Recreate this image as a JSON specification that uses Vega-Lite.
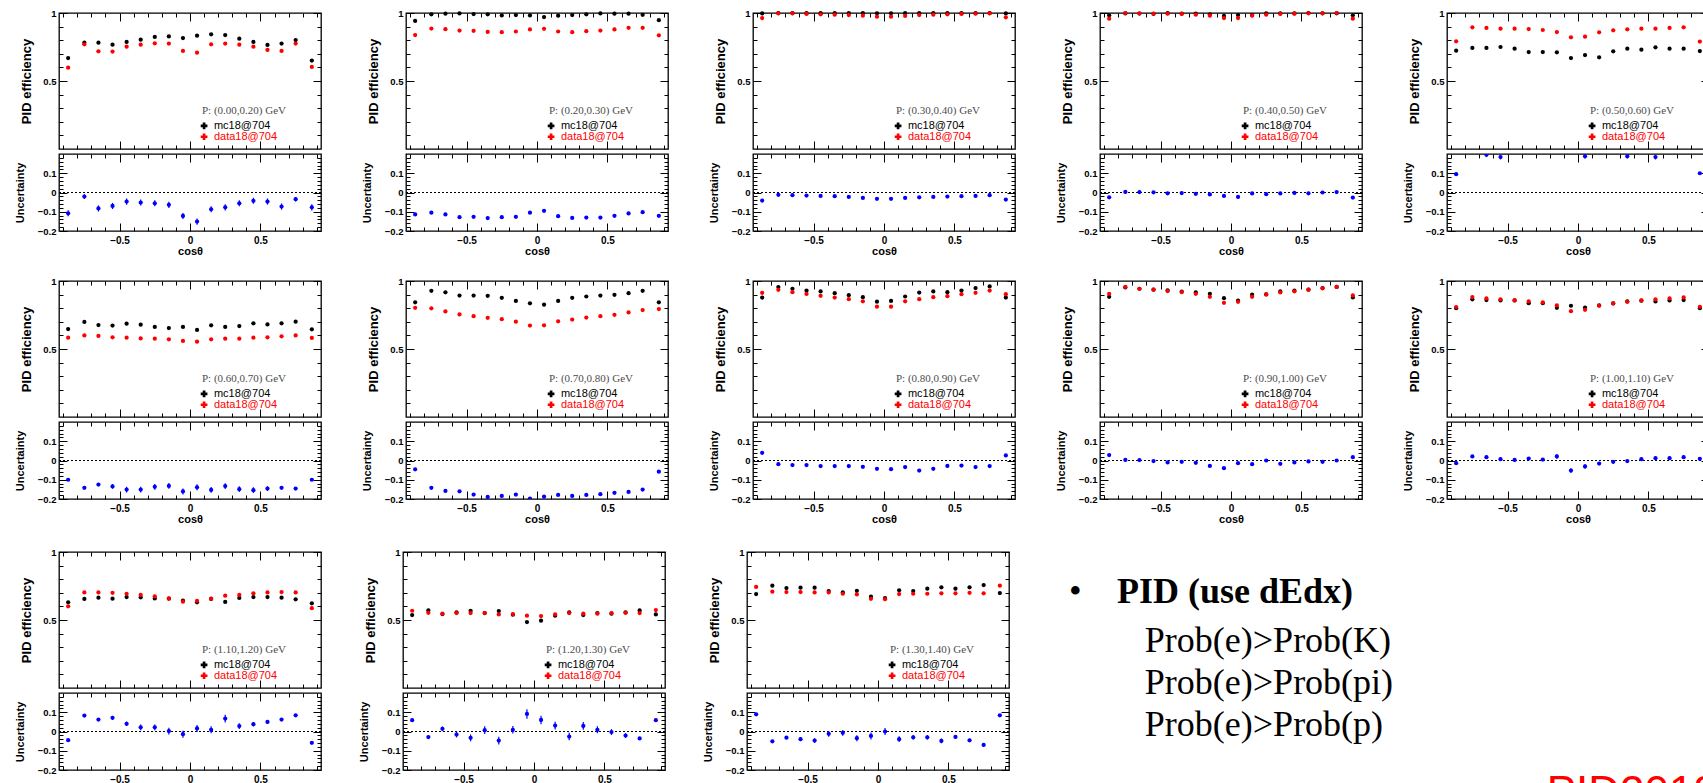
{
  "$schema": "https://vega.github.io/schema/vega-lite/v6.json",
  "background": "white",
  "padding": {"left": 13, "top": 7, "right": 0, "bottom": 0},
  "config": {
    "font": "Liberation Sans",
    "view": {"stroke": "#000000", "strokeWidth": 1.3},
    "axis": {"grid": false, "domain": false, "tickColor": "#000000", "tickWidth": 1, "labelColor": "#000000", "labelFont": "Liberation Sans", "labelFontWeight": "bold", "labelFontSize": 9.5, "titleFont": "Liberation Sans", "titleFontWeight": "bold", "titleColor": "#000000"}
  },
  "datasets": {
    "one": [{"k": 1}],
    "titles": [{"p1": "P: (0.00,0.20) GeV", "p2": "P: (0.20,0.30) GeV", "p3": "P: (0.30,0.40) GeV", "p4": "P: (0.40,0.50) GeV", "p5": "P: (0.50,0.60) GeV", "p6": "P: (0.60,0.70) GeV", "p7": "P: (0.70,0.80) GeV", "p8": "P: (0.80,0.90) GeV", "p9": "P: (0.90,1.00) GeV", "p10": "P: (1.00,1.10) GeV", "p11": "P: (1.10,1.20) GeV", "p12": "P: (1.20,1.30) GeV", "p13": "P: (1.30,1.40) GeV"}],
    "pts": [
      {"c":-0.865,"s":"m","p1":0.669,"p2":0.942,"p3":0.997,"p4":0.983,"p5":0.723,"p6":0.647,"p7":0.843,"p8":0.878,"p9":0.884,"p10":0.800,"p11":0.630,"p12":0.536,"p13":0.691},
      {"c":-0.75,"s":"m","p1":0.782,"p2":0.990,"p3":0.999,"p4":0.997,"p5":0.743,"p6":0.699,"p7":0.928,"p8":0.955,"p9":0.953,"p10":0.865,"p11":0.655,"p12":0.570,"p13":0.752},
      {"c":-0.65,"s":"m","p1":0.782,"p2":0.995,"p3":0.999,"p4":0.996,"p5":0.743,"p6":0.676,"p7":0.917,"p8":0.943,"p9":0.943,"p10":0.860,"p11":0.664,"p12":0.544,"p13":0.735},
      {"c":-0.55,"s":"m","p1":0.767,"p2":0.997,"p3":0.999,"p4":0.994,"p5":0.750,"p6":0.672,"p7":0.893,"p8":0.930,"p9":0.936,"p10":0.857,"p11":0.657,"p12":0.556,"p13":0.738},
      {"c":-0.45,"s":"m","p1":0.787,"p2":0.992,"p3":0.999,"p4":0.999,"p5":0.738,"p6":0.686,"p7":0.893,"p8":0.923,"p9":0.931,"p10":0.857,"p11":0.669,"p12":0.568,"p13":0.738},
      {"c":-0.35,"s":"m","p1":0.804,"p2":0.990,"p3":0.999,"p4":0.996,"p5":0.713,"p6":0.679,"p7":0.891,"p8":0.910,"p9":0.921,"p10":0.837,"p11":0.667,"p12":0.551,"p13":0.713},
      {"c":-0.25,"s":"m","p1":0.824,"p2":0.982,"p3":0.999,"p4":0.995,"p5":0.713,"p6":0.662,"p7":0.876,"p8":0.896,"p9":0.916,"p10":0.837,"p11":0.659,"p12":0.566,"p13":0.703},
      {"c":-0.15,"s":"m","p1":0.828,"p2":0.985,"p3":0.999,"p4":0.990,"p5":0.711,"p6":0.654,"p7":0.853,"p8":0.881,"p9":0.906,"p10":0.803,"p11":0.657,"p12":0.539,"p13":0.715},
      {"c":-0.05,"s":"m","p1":0.816,"p2":0.982,"p3":0.998,"p4":0.978,"p5":0.669,"p6":0.662,"p7":0.836,"p8":0.848,"p9":0.874,"p10":0.818,"p11":0.643,"p12":0.485,"p13":0.671},
      {"c":0.05,"s":"m","p1":0.833,"p2":0.970,"p3":0.998,"p4":0.985,"p5":0.691,"p6":0.640,"p7":0.826,"p8":0.853,"p9":0.855,"p10":0.805,"p11":0.630,"p12":0.495,"p13":0.661},
      {"c":0.15,"s":"m","p1":0.843,"p2":0.980,"p3":0.999,"p4":0.985,"p5":0.674,"p6":0.674,"p7":0.853,"p8":0.886,"p9":0.899,"p10":0.820,"p11":0.655,"p12":0.532,"p13":0.718},
      {"c":0.25,"s":"m","p1":0.838,"p2":0.985,"p3":0.999,"p4":0.997,"p5":0.718,"p6":0.662,"p7":0.876,"p8":0.915,"p9":0.901,"p10":0.835,"p11":0.633,"p12":0.556,"p13":0.713},
      {"c":0.35,"s":"m","p1":0.811,"p2":0.990,"p3":0.999,"p4":0.998,"p5":0.738,"p6":0.669,"p7":0.886,"p8":0.923,"p9":0.923,"p10":0.850,"p11":0.662,"p12":0.536,"p13":0.730},
      {"c":0.45,"s":"m","p1":0.787,"p2":0.997,"p3":0.999,"p4":0.997,"p5":0.730,"p6":0.689,"p7":0.893,"p8":0.918,"p9":0.929,"p10":0.855,"p11":0.669,"p12":0.551,"p13":0.740},
      {"c":0.55,"s":"m","p1":0.765,"p2":0.995,"p3":0.999,"p4":1.0,"p5":0.748,"p6":0.681,"p7":0.898,"p8":0.930,"p9":0.936,"p10":0.850,"p11":0.669,"p12":0.546,"p13":0.730},
      {"c":0.65,"s":"m","p1":0.775,"p2":0.995,"p3":0.999,"p4":0.998,"p5":0.738,"p6":0.689,"p7":0.910,"p8":0.948,"p9":0.948,"p10":0.857,"p11":0.664,"p12":0.556,"p13":0.740},
      {"c":0.75,"s":"m","p1":0.801,"p2":0.987,"p3":0.999,"p4":0.998,"p5":0.738,"p6":0.701,"p7":0.928,"p8":0.960,"p9":0.956,"p10":0.860,"p11":0.652,"p12":0.570,"p13":0.757},
      {"c":0.865,"s":"m","p1":0.650,"p2":0.947,"p3":0.997,"p4":0.983,"p5":0.720,"p6":0.645,"p7":0.843,"p8":0.878,"p9":0.879,"p10":0.800,"p11":0.623,"p12":0.541,"p13":0.698},
      {"c":-0.865,"s":"d","p1":0.598,"p2":0.838,"p3":0.963,"p4":0.958,"p5":0.792,"p6":0.583,"p7":0.803,"p8":0.913,"p9":0.906,"p10":0.808,"p11":0.601,"p12":0.568,"p13":0.743},
      {"c":-0.75,"s":"d","p1":0.770,"p2":0.886,"p3":0.998,"p4":1.0,"p5":0.895,"p6":0.600,"p7":0.799,"p8":0.935,"p9":0.956,"p10":0.882,"p11":0.703,"p12":0.553,"p13":0.708},
      {"c":-0.65,"s":"d","p1":0.718,"p2":0.881,"p3":0.998,"p4":0.998,"p5":0.890,"p6":0.596,"p7":0.776,"p8":0.918,"p9":0.943,"p10":0.872,"p11":0.703,"p12":0.546,"p13":0.705},
      {"c":-0.55,"s":"d","p1":0.716,"p2":0.871,"p3":0.993,"p4":0.995,"p5":0.885,"p6":0.586,"p7":0.754,"p8":0.905,"p9":0.936,"p10":0.865,"p11":0.700,"p12":0.551,"p13":0.705},
      {"c":-0.45,"s":"d","p1":0.752,"p2":0.869,"p3":0.990,"p4":0.995,"p5":0.885,"p6":0.583,"p7":0.741,"p8":0.891,"p9":0.926,"p10":0.857,"p11":0.693,"p12":0.551,"p13":0.703},
      {"c":-0.35,"s":"d","p1":0.767,"p2":0.861,"p3":0.988,"p4":0.993,"p5":0.882,"p6":0.578,"p7":0.729,"p8":0.878,"p9":0.919,"p10":0.850,"p11":0.684,"p12":0.551,"p13":0.703},
      {"c":-0.25,"s":"d","p1":0.777,"p2":0.859,"p3":0.985,"p4":0.988,"p5":0.875,"p6":0.576,"p7":0.719,"p8":0.866,"p9":0.906,"p10":0.842,"p11":0.674,"p12":0.541,"p13":0.693},
      {"c":-0.15,"s":"d","p1":0.775,"p2":0.864,"p3":0.980,"p4":0.980,"p5":0.860,"p6":0.571,"p7":0.701,"p8":0.851,"p9":0.884,"p10":0.820,"p11":0.659,"p12":0.544,"p13":0.688},
      {"c":-0.05,"s":"d","p1":0.721,"p2":0.879,"p3":0.973,"p4":0.963,"p5":0.821,"p6":0.559,"p7":0.672,"p8":0.811,"p9":0.840,"p10":0.778,"p11":0.635,"p12":0.532,"p13":0.656},
      {"c":0.05,"s":"d","p1":0.708,"p2":0.884,"p3":0.973,"p4":0.963,"p5":0.826,"p6":0.554,"p7":0.674,"p8":0.811,"p9":0.847,"p10":0.788,"p11":0.640,"p12":0.529,"p13":0.653},
      {"c":0.15,"s":"d","p1":0.770,"p2":0.864,"p3":0.978,"p4":0.980,"p5":0.858,"p6":0.571,"p7":0.704,"p8":0.851,"p9":0.884,"p10":0.818,"p11":0.657,"p12":0.541,"p13":0.691},
      {"c":0.25,"s":"d","p1":0.775,"p2":0.859,"p3":0.985,"p4":0.988,"p5":0.873,"p6":0.576,"p7":0.716,"p8":0.866,"p9":0.901,"p10":0.835,"p11":0.679,"p12":0.551,"p13":0.693},
      {"c":0.35,"s":"d","p1":0.767,"p2":0.866,"p3":0.988,"p4":0.993,"p5":0.880,"p6":0.576,"p7":0.731,"p8":0.881,"p9":0.916,"p10":0.847,"p11":0.684,"p12":0.546,"p13":0.693},
      {"c":0.45,"s":"d","p1":0.752,"p2":0.871,"p3":0.990,"p4":0.995,"p5":0.885,"p6":0.583,"p7":0.741,"p8":0.888,"p9":0.924,"p10":0.857,"p11":0.696,"p12":0.546,"p13":0.696},
      {"c":0.55,"s":"d","p1":0.728,"p2":0.879,"p3":0.993,"p4":0.998,"p5":0.885,"p6":0.586,"p7":0.751,"p8":0.903,"p9":0.936,"p10":0.865,"p11":0.703,"p12":0.551,"p13":0.696},
      {"c":0.65,"s":"d","p1":0.721,"p2":0.891,"p3":0.995,"p4":0.998,"p5":0.890,"p6":0.593,"p7":0.769,"p8":0.913,"p9":0.946,"p10":0.872,"p11":0.705,"p12":0.553,"p13":0.700},
      {"c":0.75,"s":"d","p1":0.775,"p2":0.891,"p3":0.998,"p4":1.0,"p5":0.895,"p6":0.600,"p7":0.786,"p8":0.930,"p9":0.956,"p10":0.879,"p11":0.703,"p12":0.551,"p13":0.696},
      {"c":0.865,"s":"d","p1":0.603,"p2":0.836,"p3":0.968,"p4":0.958,"p5":0.790,"p6":0.581,"p7":0.794,"p8":0.903,"p9":0.894,"p10":0.810,"p11":0.587,"p12":0.573,"p13":0.752},
      {"c":-0.865,"s":"u","p1":-0.108,"p2":-0.114,"p3":-0.042,"p4":-0.025,"p5":0.095,"p6":-0.100,"p7":-0.046,"p8":0.040,"p9":0.028,"p10":-0.014,"p11":-0.045,"p12":0.059,"p13":0.089},
      {"c":-0.75,"s":"u","p1":-0.021,"p2":-0.105,"p3":-0.012,"p4":0.003,"p5":0.225,"p6":-0.142,"p7":-0.142,"p8":-0.019,"p9":0.003,"p10":0.021,"p11":0.083,"p12":-0.029,"p13":-0.051},
      {"c":-0.65,"s":"u","p1":-0.083,"p2":-0.114,"p3":-0.014,"p4":0.002,"p5":0.196,"p6":-0.125,"p7":-0.158,"p8":-0.024,"p9":0.002,"p10":0.017,"p11":0.062,"p12":0.014,"p13":-0.032},
      {"c":-0.55,"s":"u","p1":-0.070,"p2":-0.128,"p3":-0.016,"p4":0.001,"p5":0.184,"p6":-0.135,"p7":-0.160,"p8":-0.024,"p9":-0.003,"p10":0.007,"p11":0.071,"p12":-0.016,"p13":-0.040},
      {"c":-0.45,"s":"u","p1":-0.047,"p2":-0.126,"p3":-0.018,"p4":-0.004,"p5":0.225,"p6":-0.151,"p7":-0.177,"p8":-0.029,"p9":-0.010,"p10":0.003,"p11":0.040,"p12":-0.033,"p13":-0.047},
      {"c":-0.35,"s":"u","p1":-0.052,"p2":-0.133,"p3":-0.019,"p4":-0.003,"p5":0.240,"p6":-0.151,"p7":-0.189,"p8":-0.029,"p9":-0.007,"p10":0.010,"p11":0.022,"p12":0.007,"p13":-0.012},
      {"c":-0.25,"s":"u","p1":-0.056,"p2":-0.128,"p3":-0.023,"p4":-0.007,"p5":0.230,"p6":-0.137,"p7":-0.184,"p8":-0.029,"p9":-0.012,"p10":0.005,"p11":0.022,"p12":-0.047,"p13":-0.007},
      {"c":-0.15,"s":"u","p1":-0.064,"p2":-0.126,"p3":-0.028,"p4":-0.010,"p5":0.225,"p6":-0.132,"p7":-0.177,"p8":-0.033,"p9":-0.028,"p10":0.021,"p11":0.002,"p12":0.009,"p13":-0.035},
      {"c":-0.05,"s":"u","p1":-0.122,"p2":-0.105,"p3":-0.033,"p4":-0.018,"p5":0.230,"p6":-0.161,"p7":-0.198,"p8":-0.043,"p9":-0.040,"p10":-0.052,"p11":-0.014,"p12":0.091,"p13":-0.023},
      {"c":0.05,"s":"u","p1":-0.151,"p2":-0.095,"p3":-0.033,"p4":-0.023,"p5":0.188,"p6":-0.139,"p7":-0.188,"p8":-0.045,"p9":-0.014,"p10":-0.031,"p11":0.016,"p12":0.060,"p13":0.0},
      {"c":0.15,"s":"u","p1":-0.087,"p2":-0.123,"p3":-0.028,"p4":-0.005,"p5":0.270,"p6":-0.153,"p7":-0.179,"p8":-0.034,"p9":-0.019,"p10":-0.016,"p11":0.009,"p12":0.031,"p13":-0.040},
      {"c":0.25,"s":"u","p1":-0.077,"p2":-0.132,"p3":-0.025,"p4":-0.009,"p5":0.225,"p6":-0.133,"p7":-0.184,"p8":-0.052,"p9":0.0,"p10":-0.007,"p11":0.067,"p12":-0.026,"p13":-0.030},
      {"c":0.35,"s":"u","p1":-0.056,"p2":-0.130,"p3":-0.023,"p4":-0.005,"p5":0.188,"p6":-0.149,"p7":-0.179,"p8":-0.043,"p9":-0.017,"p10":-0.003,"p11":0.028,"p12":0.029,"p13":-0.030},
      {"c":0.45,"s":"u","p1":-0.043,"p2":-0.130,"p3":-0.021,"p4":-0.002,"p5":0.225,"p6":-0.154,"p7":-0.175,"p8":-0.028,"p9":-0.010,"p10":0.007,"p11":0.038,"p12":0.009,"p13":-0.049},
      {"c":0.55,"s":"u","p1":-0.047,"p2":-0.121,"p3":-0.019,"p4":-0.004,"p5":0.184,"p6":-0.146,"p7":-0.168,"p8":-0.026,"p9":-0.005,"p10":0.012,"p11":0.050,"p12":-0.003,"p13":-0.028},
      {"c":0.65,"s":"u","p1":-0.073,"p2":-0.109,"p3":-0.018,"p4":0.0,"p5":0.225,"p6":-0.142,"p7":-0.163,"p8":-0.034,"p9":-0.007,"p10":0.012,"p11":0.062,"p12":-0.021,"p13":-0.046},
      {"c":0.75,"s":"u","p1":-0.035,"p2":-0.102,"p3":-0.014,"p4":0.002,"p5":0.225,"p6":-0.146,"p7":-0.151,"p8":-0.029,"p9":0.0,"p10":0.017,"p11":0.084,"p12":-0.036,"p13":-0.070},
      {"c":0.865,"s":"u","p1":-0.077,"p2":-0.121,"p3":-0.037,"p4":-0.026,"p5":0.100,"p6":-0.100,"p7":-0.058,"p8":0.026,"p9":0.017,"p10":0.009,"p11":-0.059,"p12":0.059,"p13":0.084},
      {"c":-0.865,"s":"lo","p1":-0.124,"p2":-0.114,"p3":-0.042,"p4":-0.025,"p5":0.088,"p6":-0.104,"p7":-0.046,"p8":0.040,"p9":0.028,"p10":-0.022,"p11":-0.049,"p12":0.053,"p13":0.083},
      {"c":-0.75,"s":"lo","p1":-0.033,"p2":-0.105,"p3":-0.012,"p4":0.003,"p5":0.225,"p6":-0.148,"p7":-0.142,"p8":-0.019,"p9":0.003,"p10":0.013,"p11":0.078,"p12":-0.034,"p13":-0.056},
      {"c":-0.65,"s":"lo","p1":-0.099,"p2":-0.114,"p3":-0.014,"p4":0.002,"p5":0.184,"p6":-0.131,"p7":-0.158,"p8":-0.024,"p9":0.002,"p10":0.009,"p11":0.057,"p12":0.002,"p13":-0.038},
      {"c":-0.55,"s":"lo","p1":-0.086,"p2":-0.128,"p3":-0.016,"p4":0.001,"p5":0.172,"p6":-0.147,"p7":-0.160,"p8":-0.024,"p9":-0.003,"p10":-0.001,"p11":0.061,"p12":-0.031,"p13":-0.050},
      {"c":-0.45,"s":"lo","p1":-0.063,"p2":-0.126,"p3":-0.018,"p4":-0.004,"p5":0.225,"p6":-0.166,"p7":-0.177,"p8":-0.029,"p9":-0.010,"p10":-0.005,"p11":0.028,"p12":-0.051,"p13":-0.059},
      {"c":-0.35,"s":"lo","p1":-0.068,"p2":-0.133,"p3":-0.019,"p4":-0.003,"p5":0.240,"p6":-0.166,"p7":-0.189,"p8":-0.029,"p9":-0.007,"p10":0.002,"p11":0.007,"p12":-0.013,"p13":-0.027},
      {"c":-0.25,"s":"lo","p1":-0.072,"p2":-0.128,"p3":-0.023,"p4":-0.007,"p5":0.230,"p6":-0.152,"p7":-0.184,"p8":-0.029,"p9":-0.012,"p10":-0.003,"p11":0.007,"p12":-0.067,"p13":-0.022},
      {"c":-0.15,"s":"lo","p1":-0.080,"p2":-0.126,"p3":-0.028,"p4":-0.010,"p5":0.225,"p6":-0.147,"p7":-0.177,"p8":-0.033,"p9":-0.028,"p10":0.009,"p11":-0.016,"p12":-0.011,"p13":-0.050},
      {"c":-0.05,"s":"lo","p1":-0.138,"p2":-0.105,"p3":-0.033,"p4":-0.018,"p5":0.230,"p6":-0.176,"p7":-0.198,"p8":-0.043,"p9":-0.040,"p10":-0.064,"p11":-0.032,"p12":0.066,"p13":-0.041},
      {"c":0.05,"s":"lo","p1":-0.167,"p2":-0.095,"p3":-0.033,"p4":-0.023,"p5":0.176,"p6":-0.154,"p7":-0.188,"p8":-0.045,"p9":-0.014,"p10":-0.043,"p11":-0.002,"p12":0.038,"p13":-0.018},
      {"c":0.15,"s":"lo","p1":-0.103,"p2":-0.123,"p3":-0.028,"p4":-0.005,"p5":0.270,"p6":-0.168,"p7":-0.179,"p8":-0.034,"p9":-0.019,"p10":-0.024,"p11":-0.009,"p12":0.011,"p13":-0.055},
      {"c":0.25,"s":"lo","p1":-0.093,"p2":-0.132,"p3":-0.025,"p4":-0.009,"p5":0.225,"p6":-0.148,"p7":-0.184,"p8":-0.052,"p9":0.0,"p10":-0.015,"p11":0.047,"p12":-0.046,"p13":-0.042},
      {"c":0.35,"s":"lo","p1":-0.072,"p2":-0.130,"p3":-0.023,"p4":-0.005,"p5":0.176,"p6":-0.164,"p7":-0.179,"p8":-0.043,"p9":-0.017,"p10":-0.011,"p11":0.013,"p12":0.009,"p13":-0.042},
      {"c":0.45,"s":"lo","p1":-0.059,"p2":-0.130,"p3":-0.021,"p4":-0.002,"p5":0.225,"p6":-0.169,"p7":-0.175,"p8":-0.028,"p9":-0.010,"p10":-0.001,"p11":0.026,"p12":-0.009,"p13":-0.061},
      {"c":0.55,"s":"lo","p1":-0.063,"p2":-0.121,"p3":-0.019,"p4":-0.004,"p5":0.172,"p6":-0.158,"p7":-0.168,"p8":-0.026,"p9":-0.005,"p10":0.004,"p11":0.040,"p12":-0.018,"p13":-0.038},
      {"c":0.65,"s":"lo","p1":-0.089,"p2":-0.109,"p3":-0.018,"p4":0.0,"p5":0.225,"p6":-0.148,"p7":-0.163,"p8":-0.034,"p9":-0.007,"p10":0.004,"p11":0.056,"p12":-0.033,"p13":-0.054},
      {"c":0.75,"s":"lo","p1":-0.047,"p2":-0.102,"p3":-0.014,"p4":0.002,"p5":0.225,"p6":-0.152,"p7":-0.151,"p8":-0.029,"p9":0.0,"p10":0.009,"p11":0.079,"p12":-0.041,"p13":-0.076},
      {"c":0.865,"s":"lo","p1":-0.093,"p2":-0.121,"p3":-0.037,"p4":-0.026,"p5":0.093,"p6":-0.104,"p7":-0.058,"p8":0.026,"p9":0.017,"p10":0.001,"p11":-0.063,"p12":0.051,"p13":0.078},
      {"c":-0.865,"s":"hi","p1":-0.092,"p2":-0.114,"p3":-0.042,"p4":-0.025,"p5":0.102,"p6":-0.096,"p7":-0.046,"p8":0.040,"p9":0.028,"p10":-0.006,"p11":-0.041,"p12":0.065,"p13":0.095},
      {"c":-0.75,"s":"hi","p1":-0.009,"p2":-0.105,"p3":-0.012,"p4":0.003,"p5":0.225,"p6":-0.136,"p7":-0.142,"p8":-0.019,"p9":0.003,"p10":0.029,"p11":0.088,"p12":-0.024,"p13":-0.046},
      {"c":-0.65,"s":"hi","p1":-0.067,"p2":-0.114,"p3":-0.014,"p4":0.002,"p5":0.208,"p6":-0.119,"p7":-0.158,"p8":-0.024,"p9":0.002,"p10":0.025,"p11":0.067,"p12":0.026,"p13":-0.026},
      {"c":-0.55,"s":"hi","p1":-0.054,"p2":-0.128,"p3":-0.016,"p4":0.001,"p5":0.196,"p6":-0.123,"p7":-0.160,"p8":-0.024,"p9":-0.003,"p10":0.015,"p11":0.081,"p12":-0.001,"p13":-0.030},
      {"c":-0.45,"s":"hi","p1":-0.031,"p2":-0.126,"p3":-0.018,"p4":-0.004,"p5":0.225,"p6":-0.136,"p7":-0.177,"p8":-0.029,"p9":-0.010,"p10":0.011,"p11":0.052,"p12":-0.015,"p13":-0.035},
      {"c":-0.35,"s":"hi","p1":-0.036,"p2":-0.133,"p3":-0.019,"p4":-0.003,"p5":0.240,"p6":-0.136,"p7":-0.189,"p8":-0.029,"p9":-0.007,"p10":0.018,"p11":0.037,"p12":0.027,"p13":0.003},
      {"c":-0.25,"s":"hi","p1":-0.040,"p2":-0.128,"p3":-0.023,"p4":-0.007,"p5":0.230,"p6":-0.122,"p7":-0.184,"p8":-0.029,"p9":-0.012,"p10":0.013,"p11":0.037,"p12":-0.027,"p13":0.008},
      {"c":-0.15,"s":"hi","p1":-0.048,"p2":-0.126,"p3":-0.028,"p4":-0.010,"p5":0.225,"p6":-0.117,"p7":-0.177,"p8":-0.033,"p9":-0.028,"p10":0.033,"p11":0.020,"p12":0.029,"p13":-0.020},
      {"c":-0.05,"s":"hi","p1":-0.106,"p2":-0.105,"p3":-0.033,"p4":-0.018,"p5":0.230,"p6":-0.146,"p7":-0.198,"p8":-0.043,"p9":-0.040,"p10":-0.040,"p11":0.004,"p12":0.116,"p13":-0.005},
      {"c":0.05,"s":"hi","p1":-0.135,"p2":-0.095,"p3":-0.033,"p4":-0.023,"p5":0.200,"p6":-0.124,"p7":-0.188,"p8":-0.045,"p9":-0.014,"p10":-0.019,"p11":0.034,"p12":0.082,"p13":0.018},
      {"c":0.15,"s":"hi","p1":-0.071,"p2":-0.123,"p3":-0.028,"p4":-0.005,"p5":0.270,"p6":-0.138,"p7":-0.179,"p8":-0.034,"p9":-0.019,"p10":-0.008,"p11":0.027,"p12":0.051,"p13":-0.025},
      {"c":0.25,"s":"hi","p1":-0.061,"p2":-0.132,"p3":-0.025,"p4":-0.009,"p5":0.225,"p6":-0.118,"p7":-0.184,"p8":-0.052,"p9":0.0,"p10":0.001,"p11":0.087,"p12":-0.006,"p13":-0.018},
      {"c":0.35,"s":"hi","p1":-0.040,"p2":-0.130,"p3":-0.023,"p4":-0.005,"p5":0.200,"p6":-0.134,"p7":-0.179,"p8":-0.043,"p9":-0.017,"p10":0.005,"p11":0.043,"p12":0.049,"p13":-0.018},
      {"c":0.45,"s":"hi","p1":-0.027,"p2":-0.130,"p3":-0.021,"p4":-0.002,"p5":0.225,"p6":-0.139,"p7":-0.175,"p8":-0.028,"p9":-0.010,"p10":0.015,"p11":0.050,"p12":0.027,"p13":-0.037},
      {"c":0.55,"s":"hi","p1":-0.031,"p2":-0.121,"p3":-0.019,"p4":-0.004,"p5":0.196,"p6":-0.134,"p7":-0.168,"p8":-0.026,"p9":-0.005,"p10":0.020,"p11":0.060,"p12":0.012,"p13":-0.018},
      {"c":0.65,"s":"hi","p1":-0.057,"p2":-0.109,"p3":-0.018,"p4":0.0,"p5":0.225,"p6":-0.136,"p7":-0.163,"p8":-0.034,"p9":-0.007,"p10":0.020,"p11":0.068,"p12":-0.009,"p13":-0.038},
      {"c":0.75,"s":"hi","p1":-0.023,"p2":-0.102,"p3":-0.014,"p4":0.002,"p5":0.225,"p6":-0.140,"p7":-0.151,"p8":-0.029,"p9":0.0,"p10":0.025,"p11":0.089,"p12":-0.031,"p13":-0.064},
      {"c":0.865,"s":"hi","p1":-0.061,"p2":-0.121,"p3":-0.037,"p4":-0.026,"p5":0.107,"p6":-0.096,"p7":-0.058,"p8":0.026,"p9":0.017,"p10":0.017,"p11":-0.055,"p12":0.067,"p13":0.090}
    ]
  },
  "spacing": 21,
  "vconcat": [
    {
      "data": {"name": "pts"},
      "repeat": ["p1", "p2", "p3", "p4", "p5", "p6", "p7", "p8", "p9", "p10"],
      "columns": 5,
      "spacing": {"row": 18, "column": 37},
      "spec": {
        "spacing": 1,
        "vconcat": [
          {
            "width": 262, "height": 136,
            "layer": [
              {
                "transform": [{"filter": "datum.s == 'm' || datum.s == 'd'"}],
                "mark": {"type": "circle", "size": 18, "opacity": 1},
                "encoding": {
                  "x": {"field": "c", "type": "quantitative", "scale": {"domain": [-0.93, 0.93], "nice": false, "zero": false}, "axis": {"orient": "bottom", "values": [-0.5, 0, 0.5], "labels": false, "tickSize": -8, "title": null}},
                  "y": {"field": {"repeat": "repeat"}, "type": "quantitative", "scale": {"domain": [0, 1], "nice": false, "zero": false}, "axis": {"orient": "left", "values": [0.5, 1], "format": "~g", "tickSize": -8, "labelPadding": 11, "title": "PID efficiency", "titleFontSize": 13, "titlePadding": 9}},
                  "color": {"field": "s", "type": "nominal", "scale": {"domain": ["m", "d"], "range": ["#000000", "#ff0000"]}, "legend": null}
                }
              },
              {
                "data": {"name": "titles"},
                "mark": {"type": "text", "align": "left", "baseline": "middle", "font": "Liberation Serif", "fontSize": 11, "color": "#4d4d4d"},
                "encoding": {
                  "x": {"datum": 0.085, "type": "quantitative", "axis": {"orient": "top", "values": [-0.5, 0, 0.5], "labels": false, "tickSize": -8, "title": null}},
                  "y": {"datum": 0.28, "type": "quantitative", "axis": {"orient": "right", "values": [0.5, 1], "labels": false, "tickSize": -8, "title": null}},
                  "text": {"field": {"repeat": "repeat"}, "type": "nominal"}
                }
              },
              {
                "data": {"name": "one"},
                "mark": {"type": "text", "align": "left", "baseline": "middle", "fontSize": 11, "color": "#000000", "text": "mc18@704"},
                "encoding": {
                  "x": {"datum": 0.17, "type": "quantitative", "axis": {"orient": "bottom", "values": [-0.9, -0.8, -0.7, -0.6, -0.4, -0.3, -0.2, -0.1, 0.1, 0.2, 0.3, 0.4, 0.6, 0.7, 0.8, 0.9], "labels": false, "tickSize": -4, "title": null}},
                  "y": {"datum": 0.17, "type": "quantitative", "axis": {"orient": "left", "values": [0.1, 0.2, 0.3, 0.4, 0.6, 0.7, 0.8, 0.9], "labels": false, "tickSize": -4, "title": null}}
                }
              },
              {
                "data": {"name": "one"},
                "mark": {"type": "text", "align": "left", "baseline": "middle", "fontSize": 11, "color": "#ff0000", "text": "data18@704"},
                "encoding": {
                  "x": {"datum": 0.17, "type": "quantitative", "axis": {"orient": "top", "values": [-0.9, -0.8, -0.7, -0.6, -0.4, -0.3, -0.2, -0.1, 0.1, 0.2, 0.3, 0.4, 0.6, 0.7, 0.8, 0.9], "labels": false, "tickSize": -4, "title": null}},
                  "y": {"datum": 0.09, "type": "quantitative", "axis": {"orient": "right", "values": [0.1, 0.2, 0.3, 0.4, 0.6, 0.7, 0.8, 0.9], "labels": false, "tickSize": -4, "title": null}}
                }
              },
              {
                "data": {"name": "one"},
                "mark": {"type": "point", "shape": "cross", "filled": true, "size": 45, "color": "#000000", "opacity": 1},
                "encoding": {"x": {"datum": 0.1, "type": "quantitative", "axis": null}, "y": {"datum": 0.17, "type": "quantitative", "axis": null}}
              },
              {
                "data": {"name": "one"},
                "mark": {"type": "point", "shape": "cross", "filled": true, "size": 45, "color": "#ff0000", "opacity": 1},
                "encoding": {"x": {"datum": 0.1, "type": "quantitative", "axis": null}, "y": {"datum": 0.09, "type": "quantitative", "axis": null}}
              }
            ],
            "resolve": {"axis": {"x": "independent", "y": "independent"}}
          },
          {
            "width": 262, "height": 77,
            "layer": [
              {
                "data": {"name": "one"},
                "mark": {"type": "rule", "color": "#000000", "strokeDash": [2, 2], "strokeWidth": 1},
                "encoding": {"y": {"datum": 0, "type": "quantitative", "scale": {"domain": [-0.2, 0.2], "nice": false, "zero": false}, "axis": {"orient": "left", "values": [-0.18, -0.16, -0.14, -0.12, -0.08, -0.06, -0.04, -0.02, 0.02, 0.04, 0.06, 0.08, 0.12, 0.14, 0.16, 0.18], "labels": false, "tickSize": -4, "title": null}}}
              },
              {
                "transform": [{"filter": "datum.s == 'lo' || datum.s == 'hi'"}],
                "mark": {"type": "rule", "color": "#0000ff", "strokeWidth": 1.2, "clip": true},
                "encoding": {
                  "x": {"field": "c", "type": "quantitative", "axis": {"orient": "top", "values": [-0.5, 0, 0.5], "labels": false, "tickSize": -8, "title": null}},
                  "y": {"field": {"repeat": "repeat"}, "aggregate": "min", "type": "quantitative", "axis": {"orient": "right", "values": [-0.2, -0.1, 0, 0.1], "labels": false, "tickSize": -8, "title": null}},
                  "y2": {"field": {"repeat": "repeat"}, "aggregate": "max"}
                }
              },
              {
                "transform": [{"filter": "datum.s == 'u'"}],
                "mark": {"type": "circle", "size": 18, "color": "#0000ff", "opacity": 1, "clip": true},
                "encoding": {
                  "x": {"field": "c", "type": "quantitative", "scale": {"domain": [-0.93, 0.93], "nice": false, "zero": false}, "axis": {"orient": "bottom", "values": [-0.5, 0, 0.5], "format": "~g", "tickSize": -8, "labelPadding": 12, "labelFontSize": 10, "title": "cosθ", "titleFontSize": 11, "titlePadding": 0}},
                  "y": {"field": {"repeat": "repeat"}, "type": "quantitative", "axis": {"orient": "left", "values": [-0.2, -0.1, 0, 0.1], "format": "~g", "tickSize": -8, "labelPadding": 11, "title": "Uncertainty", "titleFontSize": 11, "titlePadding": 12}}
                }
              },
              {
                "data": {"name": "one"},
                "mark": {"type": "point", "opacity": 0},
                "encoding": {
                  "x": {"datum": 0, "type": "quantitative", "axis": {"orient": "bottom", "values": [-0.9, -0.8, -0.7, -0.6, -0.4, -0.3, -0.2, -0.1, 0.1, 0.2, 0.3, 0.4, 0.6, 0.7, 0.8, 0.9], "labels": false, "tickSize": -4, "title": null}},
                  "y": {"datum": 0, "type": "quantitative", "axis": {"orient": "right", "values": [-0.18, -0.16, -0.14, -0.12, -0.08, -0.06, -0.04, -0.02, 0.02, 0.04, 0.06, 0.08, 0.12, 0.14, 0.16, 0.18], "labels": false, "tickSize": -4, "title": null}}
                }
              },
              {
                "data": {"name": "one"},
                "mark": {"type": "point", "opacity": 0},
                "encoding": {
                  "x": {"datum": 0, "type": "quantitative", "axis": {"orient": "top", "values": [-0.9, -0.8, -0.7, -0.6, -0.4, -0.3, -0.2, -0.1, 0.1, 0.2, 0.3, 0.4, 0.6, 0.7, 0.8, 0.9], "labels": false, "tickSize": -4, "title": null}},
                  "y": {"datum": 0, "type": "quantitative", "axis": null}
                }
              }
            ],
            "resolve": {"axis": {"x": "independent", "y": "independent"}}
          }
        ]
      }
    },
    {
      "spacing": 42,
      "hconcat": [
        {
          "data": {"name": "pts"},
          "repeat": ["p11", "p12", "p13"],
          "columns": 3,
          "spacing": {"row": 18, "column": 34},
          "spec": {
            "spacing": 1,
            "vconcat": [
              {
                "width": 262, "height": 136,
                "layer": [
                  {
                    "transform": [{"filter": "datum.s == 'm' || datum.s == 'd'"}],
                    "mark": {"type": "circle", "size": 18, "opacity": 1},
                    "encoding": {
                      "x": {"field": "c", "type": "quantitative", "scale": {"domain": [-0.93, 0.93], "nice": false, "zero": false}, "axis": {"orient": "bottom", "values": [-0.5, 0, 0.5], "labels": false, "tickSize": -8, "title": null}},
                      "y": {"field": {"repeat": "repeat"}, "type": "quantitative", "scale": {"domain": [0, 1], "nice": false, "zero": false}, "axis": {"orient": "left", "values": [0.5, 1], "format": "~g", "tickSize": -8, "labelPadding": 11, "title": "PID efficiency", "titleFontSize": 13, "titlePadding": 9}},
                      "color": {"field": "s", "type": "nominal", "scale": {"domain": ["m", "d"], "range": ["#000000", "#ff0000"]}, "legend": null}
                    }
                  },
                  {
                    "data": {"name": "titles"},
                    "mark": {"type": "text", "align": "left", "baseline": "middle", "font": "Liberation Serif", "fontSize": 11, "color": "#4d4d4d"},
                    "encoding": {
                      "x": {"datum": 0.085, "type": "quantitative", "axis": {"orient": "top", "values": [-0.5, 0, 0.5], "labels": false, "tickSize": -8, "title": null}},
                      "y": {"datum": 0.28, "type": "quantitative", "axis": {"orient": "right", "values": [0.5, 1], "labels": false, "tickSize": -8, "title": null}},
                      "text": {"field": {"repeat": "repeat"}, "type": "nominal"}
                    }
                  },
                  {
                    "data": {"name": "one"},
                    "mark": {"type": "text", "align": "left", "baseline": "middle", "fontSize": 11, "color": "#000000", "text": "mc18@704"},
                    "encoding": {
                      "x": {"datum": 0.17, "type": "quantitative", "axis": {"orient": "bottom", "values": [-0.9, -0.8, -0.7, -0.6, -0.4, -0.3, -0.2, -0.1, 0.1, 0.2, 0.3, 0.4, 0.6, 0.7, 0.8, 0.9], "labels": false, "tickSize": -4, "title": null}},
                      "y": {"datum": 0.17, "type": "quantitative", "axis": {"orient": "left", "values": [0.1, 0.2, 0.3, 0.4, 0.6, 0.7, 0.8, 0.9], "labels": false, "tickSize": -4, "title": null}}
                    }
                  },
                  {
                    "data": {"name": "one"},
                    "mark": {"type": "text", "align": "left", "baseline": "middle", "fontSize": 11, "color": "#ff0000", "text": "data18@704"},
                    "encoding": {
                      "x": {"datum": 0.17, "type": "quantitative", "axis": {"orient": "top", "values": [-0.9, -0.8, -0.7, -0.6, -0.4, -0.3, -0.2, -0.1, 0.1, 0.2, 0.3, 0.4, 0.6, 0.7, 0.8, 0.9], "labels": false, "tickSize": -4, "title": null}},
                      "y": {"datum": 0.09, "type": "quantitative", "axis": {"orient": "right", "values": [0.1, 0.2, 0.3, 0.4, 0.6, 0.7, 0.8, 0.9], "labels": false, "tickSize": -4, "title": null}}
                    }
                  },
                  {
                    "data": {"name": "one"},
                    "mark": {"type": "point", "shape": "cross", "filled": true, "size": 45, "color": "#000000", "opacity": 1},
                    "encoding": {"x": {"datum": 0.1, "type": "quantitative", "axis": null}, "y": {"datum": 0.17, "type": "quantitative", "axis": null}}
                  },
                  {
                    "data": {"name": "one"},
                    "mark": {"type": "point", "shape": "cross", "filled": true, "size": 45, "color": "#ff0000", "opacity": 1},
                    "encoding": {"x": {"datum": 0.1, "type": "quantitative", "axis": null}, "y": {"datum": 0.09, "type": "quantitative", "axis": null}}
                  }
                ],
                "resolve": {"axis": {"x": "independent", "y": "independent"}}
              },
              {
                "width": 262, "height": 77,
                "layer": [
                  {
                    "data": {"name": "one"},
                    "mark": {"type": "rule", "color": "#000000", "strokeDash": [2, 2], "strokeWidth": 1},
                    "encoding": {"y": {"datum": 0, "type": "quantitative", "scale": {"domain": [-0.2, 0.2], "nice": false, "zero": false}, "axis": {"orient": "left", "values": [-0.18, -0.16, -0.14, -0.12, -0.08, -0.06, -0.04, -0.02, 0.02, 0.04, 0.06, 0.08, 0.12, 0.14, 0.16, 0.18], "labels": false, "tickSize": -4, "title": null}}}
                  },
                  {
                    "transform": [{"filter": "datum.s == 'lo' || datum.s == 'hi'"}],
                    "mark": {"type": "rule", "color": "#0000ff", "strokeWidth": 1.2, "clip": true},
                    "encoding": {
                      "x": {"field": "c", "type": "quantitative", "axis": {"orient": "top", "values": [-0.5, 0, 0.5], "labels": false, "tickSize": -8, "title": null}},
                      "y": {"field": {"repeat": "repeat"}, "aggregate": "min", "type": "quantitative", "axis": {"orient": "right", "values": [-0.2, -0.1, 0, 0.1], "labels": false, "tickSize": -8, "title": null}},
                      "y2": {"field": {"repeat": "repeat"}, "aggregate": "max"}
                    }
                  },
                  {
                    "transform": [{"filter": "datum.s == 'u'"}],
                    "mark": {"type": "circle", "size": 18, "color": "#0000ff", "opacity": 1, "clip": true},
                    "encoding": {
                      "x": {"field": "c", "type": "quantitative", "scale": {"domain": [-0.93, 0.93], "nice": false, "zero": false}, "axis": {"orient": "bottom", "values": [-0.5, 0, 0.5], "format": "~g", "tickSize": -8, "labelPadding": 12, "labelFontSize": 10, "title": "cosθ", "titleFontSize": 11, "titlePadding": 0}},
                      "y": {"field": {"repeat": "repeat"}, "type": "quantitative", "axis": {"orient": "left", "values": [-0.2, -0.1, 0, 0.1], "format": "~g", "tickSize": -8, "labelPadding": 11, "title": "Uncertainty", "titleFontSize": 11, "titlePadding": 12}}
                    }
                  },
                  {
                    "data": {"name": "one"},
                    "mark": {"type": "point", "opacity": 0},
                    "encoding": {
                      "x": {"datum": 0, "type": "quantitative", "axis": {"orient": "bottom", "values": [-0.9, -0.8, -0.7, -0.6, -0.4, -0.3, -0.2, -0.1, 0.1, 0.2, 0.3, 0.4, 0.6, 0.7, 0.8, 0.9], "labels": false, "tickSize": -4, "title": null}},
                      "y": {"datum": 0, "type": "quantitative", "axis": {"orient": "right", "values": [-0.18, -0.16, -0.14, -0.12, -0.08, -0.06, -0.04, -0.02, 0.02, 0.04, 0.06, 0.08, 0.12, 0.14, 0.16, 0.18], "labels": false, "tickSize": -4, "title": null}}
                    }
                  },
                  {
                    "data": {"name": "one"},
                    "mark": {"type": "point", "opacity": 0},
                    "encoding": {
                      "x": {"datum": 0, "type": "quantitative", "axis": {"orient": "top", "values": [-0.9, -0.8, -0.7, -0.6, -0.4, -0.3, -0.2, -0.1, 0.1, 0.2, 0.3, 0.4, 0.6, 0.7, 0.8, 0.9], "labels": false, "tickSize": -4, "title": null}},
                      "y": {"datum": 0, "type": "quantitative", "axis": null}
                    }
                  }
                ],
                "resolve": {"axis": {"x": "independent", "y": "independent"}}
              }
            ]
          }
        },
        {
          "width": 640, "height": 240,
          "view": {"stroke": null},
          "data": {"name": "one"},
          "layer": [
            {
              "mark": {"type": "text", "text": "•", "font": "Liberation Serif", "fontSize": 36, "align": "left", "baseline": "middle", "color": "#000000"},
              "encoding": {
                "x": {"datum": 0.025, "type": "quantitative", "scale": {"domain": [0, 1], "nice": false, "zero": false}, "axis": null},
                "y": {"datum": 0.167, "type": "quantitative", "scale": {"domain": [0, 1], "nice": false, "zero": false, "reverse": true}, "axis": null}
              }
            },
            {
              "mark": {"type": "text", "text": "PID (use dEdx)", "font": "Liberation Serif", "fontWeight": "bold", "fontSize": 36, "align": "left", "baseline": "middle", "color": "#000000"},
              "encoding": {"x": {"datum": 0.1, "type": "quantitative", "axis": null}, "y": {"datum": 0.167, "type": "quantitative", "axis": null}}
            },
            {
              "mark": {"type": "text", "text": "Prob(e)>Prob(K)", "font": "Liberation Serif", "fontSize": 36, "align": "left", "baseline": "middle", "color": "#000000"},
              "encoding": {"x": {"datum": 0.1435, "type": "quantitative", "axis": null}, "y": {"datum": 0.371, "type": "quantitative", "axis": null}}
            },
            {
              "mark": {"type": "text", "text": "Prob(e)>Prob(pi)", "font": "Liberation Serif", "fontSize": 36, "align": "left", "baseline": "middle", "color": "#000000"},
              "encoding": {"x": {"datum": 0.1435, "type": "quantitative", "axis": null}, "y": {"datum": 0.546, "type": "quantitative", "axis": null}}
            },
            {
              "mark": {"type": "text", "text": "Prob(e)>Prob(p)", "font": "Liberation Serif", "fontSize": 36, "align": "left", "baseline": "middle", "color": "#000000"},
              "encoding": {"x": {"datum": 0.1435, "type": "quantitative", "axis": null}, "y": {"datum": 0.721, "type": "quantitative", "axis": null}}
            },
            {
              "mark": {"type": "text", "text": "PID2018", "font": "Liberation Sans", "fontSize": 44, "align": "left", "baseline": "top", "color": "#ff0000"},
              "encoding": {"x": {"datum": 0.7715, "type": "quantitative", "axis": null}, "y": {"datum": 0.915, "type": "quantitative", "axis": null}}
            }
          ]
        }
      ]
    }
  ]
}
